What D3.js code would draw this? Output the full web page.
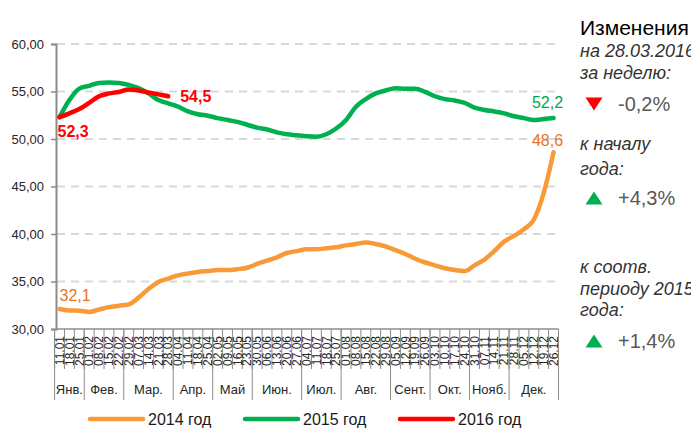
<!DOCTYPE html>
<html>
<head>
<meta charset="utf-8">
<script src="https://cdn.jsdelivr.net/npm/d3@7"></script>
<style>
  body { margin: 0; background: #fff; }
  svg { display: block; font-family: "Liberation Sans", Arial, sans-serif; }
</style>
</head>
<body>
<svg id="chart" width="691" height="428"></svg>
<script>
var WEEKS = ["11.01", "18.01", "25.01", "01.02", "08.02", "15.02", "22.02", "29.02", "07.03", "14.03",
  "21.03", "28.03", "04.04", "11.04", "18.04", "25.04", "02.05", "09.05", "16.05", "23.05",
  "30.05", "06.06", "13.06", "20.06", "27.06", "04.07", "11.07", "18.07", "25.07", "01.08",
  "08.08", "15.08", "22.08", "29.08", "05.09", "12.09", "19.09", "26.09", "03.10", "10.10",
  "17.10", "24.10", "31.10", "07.11", "14.11", "21.11", "28.11", "05.12", "12.12", "19.12", "26.12"];

var MONTHS = ["Янв.", "Фев.", "Мар.", "Апр.", "Май", "Июн.", "Июл.", "Авг.", "Сент.", "Окт.", "Нояб.", "Дек."];
var MONTH_WEEKS = [3, 4, 5, 4, 4, 5, 4, 5, 4, 4, 4, 5];

var Y_TICKS = [30, 35, 40, 45, 50, 55, 60];

var values2014 = [32.1, 31.95, 31.93, 31.8, 32.05, 32.3, 32.45, 32.6, 33.3, 34.2,
  34.95, 35.3, 35.65, 35.85, 36.0, 36.1, 36.2, 36.2, 36.3, 36.45,
  36.85, 37.2, 37.55, 38.0, 38.2, 38.4, 38.4, 38.5, 38.6, 38.8,
  38.95, 39.1, 38.95, 38.7, 38.3, 37.9, 37.4, 37.0, 36.7, 36.4,
  36.2, 36.1, 36.7, 37.3, 38.2, 39.2, 39.8, 40.5, 41.5, 44.3, 48.6];

var values2015 = [52.3, 54.1, 55.3, 55.6, 55.9, 55.95, 55.9, 55.7, 55.35, 54.8,
  54.1, 53.75, 53.4, 52.9, 52.6, 52.45, 52.2, 52.0, 51.8, 51.5,
  51.2, 51.0, 50.7, 50.5, 50.4, 50.3, 50.25, 50.5, 51.1, 52.0,
  53.4, 54.2, 54.8, 55.1, 55.35, 55.3, 55.3, 54.95, 54.5, 54.2,
  54.05, 53.8, 53.3, 53.05, 52.9, 52.7, 52.4, 52.2, 52.0, 52.1, 52.2];

var values2016 = [52.3, 52.7, 53.15, 53.8, 54.5, 54.8, 54.95, 55.2, 55.1, 54.9, 54.7, 54.5];

var SERIES = [
  { name: "2014 год", values: values2014, color: "#f99a38", text: "#e8731f" },
  { name: "2015 год", values: values2015, color: "#00b050", text: "#00a550" },
  { name: "2016 год", values: values2016, color: "#ff0000", text: "#ff0000" }
];

var PLOT_LEFT = 54.6, PLOT_RIGHT = 558.5, PLOT_TOP = 44, PLOT_BOTTOM = 329;

var svg = d3.select("#chart");

var x = d3.scaleBand().domain(WEEKS).range([PLOT_LEFT, PLOT_RIGHT]).padding(0);
var y = d3.scaleLinear().domain([30, 60]).range([PLOT_BOTTOM, PLOT_TOP]);
var cx = function (i) { return x(WEEKS[i]) + x.bandwidth() / 2; };
var comma = function (v, n) { return d3.format("." + n + "f")(v).replace(".", ","); };

// gridlines
svg.append("g").selectAll("line")
  .data(Y_TICKS.filter(function (t) { return t > 30; }))
  .enter().append("line")
  .attr("x1", 57).attr("x2", PLOT_RIGHT)
  .attr("y1", function (d) { return y(d); }).attr("y2", function (d) { return y(d); })
  .attr("stroke", "#d9d9d9").attr("stroke-width", 2).attr("stroke-dasharray", "8,6");

// y axis
var yAxis = svg.append("g")
  .attr("transform", "translate(56,0)")
  .call(d3.axisLeft(y).tickValues(Y_TICKS).tickSize(5).tickPadding(7)
    .tickFormat(function (d) { return comma(d, 2); }));
yAxis.select(".domain").attr("stroke", "#8c8c8c").attr("stroke-width", 2);
yAxis.selectAll(".tick line").attr("stroke", "#8c8c8c").attr("stroke-width", 1.5);
yAxis.selectAll(".tick text").attr("font-size", 13).attr("fill", "#262626")
  .attr("font-family", "Liberation Sans, Arial, sans-serif");

// x axis base line
svg.append("line")
  .attr("x1", 56).attr("x2", PLOT_RIGHT)
  .attr("y1", PLOT_BOTTOM).attr("y2", PLOT_BOTTOM)
  .attr("stroke", "#8c8c8c").attr("stroke-width", 1.5);

// week tick lines
svg.append("g").selectAll("line")
  .data(WEEKS)
  .enter().append("line")
  .attr("x1", function (d) { return x(d); }).attr("x2", function (d) { return x(d); })
  .attr("y1", PLOT_BOTTOM).attr("y2", 369)
  .attr("stroke", "#8c8c8c").attr("stroke-width", 1);

// week labels
svg.append("g").selectAll("text")
  .data(WEEKS)
  .enter().append("text")
  .attr("transform", function (d) {
    return "translate(" + (x(d) + x.bandwidth() / 2) + "," + 336 + ") rotate(-90)";
  })
  .attr("text-anchor", "end")
  .attr("dy", "0.35em")
  .attr("font-size", 12)
  .attr("fill", "#262626")
  .text(function (d) { return d; });

// month groups
var monthStart = [];
MONTH_WEEKS.reduce(function (acc, n) { monthStart.push(acc); return acc + n; }, 0);
var monthG = svg.append("g");
monthStart.forEach(function (s, m) {
  var left = x(WEEKS[s]);
  var right = x(WEEKS[s + MONTH_WEEKS[m] - 1]) + x.bandwidth();
  monthG.append("line")
    .attr("x1", left).attr("x2", left).attr("y1", PLOT_BOTTOM).attr("y2", 400)
    .attr("stroke", "#8c8c8c").attr("stroke-width", 1);
  monthG.append("text")
    .attr("x", (left + right) / 2).attr("y", 394)
    .attr("text-anchor", "middle").attr("font-size", 13).attr("fill", "#262626")
    .text(MONTHS[m]);
});
monthG.append("line")
  .attr("x1", PLOT_RIGHT).attr("x2", PLOT_RIGHT).attr("y1", PLOT_BOTTOM).attr("y2", 400)
  .attr("stroke", "#8c8c8c").attr("stroke-width", 1);

// lines
var line = d3.line()
  .x(function (d, i) { return cx(i); })
  .y(function (d) { return y(d); })
  .curve(d3.curveMonotoneX);

svg.append("g").selectAll("path")
  .data(SERIES)
  .enter().append("path")
  .attr("d", function (s) { return line(s.values); })
  .attr("fill", "none")
  .attr("stroke", function (s) { return s.color; })
  .attr("stroke-width", 4.5)
  .attr("stroke-linecap", "round")
  .attr("stroke-linejoin", "round");

// value labels
var labels = [
  { s: 2, i: 0, dx: -2, dy: 19.5, bold: true, anchor: "start" },
  { s: 2, i: 11, dx: 12, dy: 6, bold: true, anchor: "start" },
  { s: 0, i: 0, dx: 0, dy: -8, bold: false, anchor: "start" },
  { s: 1, i: 50, dx: 9.5, dy: -10, bold: false, anchor: "end" },
  { s: 0, i: 50, dx: 9.5, dy: -6, bold: false, anchor: "end" }
];
svg.append("g").selectAll("text")
  .data(labels)
  .enter().append("text")
  .attr("x", function (d) { return cx(d.i) + d.dx; })
  .attr("y", function (d) { return y(SERIES[d.s].values[d.i]) + d.dy; })
  .attr("text-anchor", function (d) { return d.anchor; })
  .attr("font-size", 16)
  .attr("font-weight", function (d) { return d.bold ? "bold" : "normal"; })
  .attr("fill", function (d) { return SERIES[d.s].text; })
  .text(function (d) { return comma(SERIES[d.s].values[d.i], 1); });

// legend
var legend = svg.append("g").selectAll("g")
  .data(SERIES)
  .enter().append("g")
  .attr("transform", function (d, i) { return "translate(" + (90 + i * 155) + ",419)"; });
legend.append("line")
  .attr("x1", 0).attr("x2", 53).attr("y1", 0).attr("y2", 0)
  .attr("stroke", function (d) { return d.color; })
  .attr("stroke-width", 4.5).attr("stroke-linecap", "round");
legend.append("text")
  .attr("x", 58).attr("y", 6)
  .attr("font-size", 16).attr("fill", "#1a1a1a")
  .text(function (d) { return d.name; });

// side panel
var panel = svg.append("g").attr("transform", "translate(580,0)");
panel.append("text").attr("x", 0).attr("y", 35)
  .attr("font-size", 21).attr("fill", "#000").text("Изменения");
var italics = [
  ["на 28.03.2016", 57], ["за неделю:", 79],
  ["к началу", 150], ["года:", 175],
  ["к соотв.", 273], ["периоду 2015", 295], ["года:", 316]
];
panel.selectAll("text.it")
  .data(italics)
  .enter().append("text")
  .attr("class", "it")
  .attr("x", 0).attr("y", function (d) { return d[1]; })
  .attr("font-size", 18).attr("font-style", "italic").attr("fill", "#333")
  .text(function (d) { return d[0]; });

var changes = [
  { text: "-0,2%", up: false, y: 111 },
  { text: "+4,3%", up: true, y: 205 },
  { text: "+1,4%", up: true, y: 348 }
];
var triangle = function (up) {
  return up ? "M-8.5,6.5L8.5,6.5L0,-6.5Z" : "M-8.5,-6.5L8.5,-6.5L0,6.5Z";
};
changes.forEach(function (c) {
  panel.append("path")
    .attr("d", triangle(c.up))
    .attr("transform", "translate(14," + (c.y - 7) + ")")
    .attr("fill", c.up ? "#00b050" : "#ff0000");
  panel.append("text")
    .attr("x", 38).attr("y", c.y)
    .attr("font-size", 20).attr("fill", "#595959")
    .text(c.text);
});
</script>
</body>
</html>
